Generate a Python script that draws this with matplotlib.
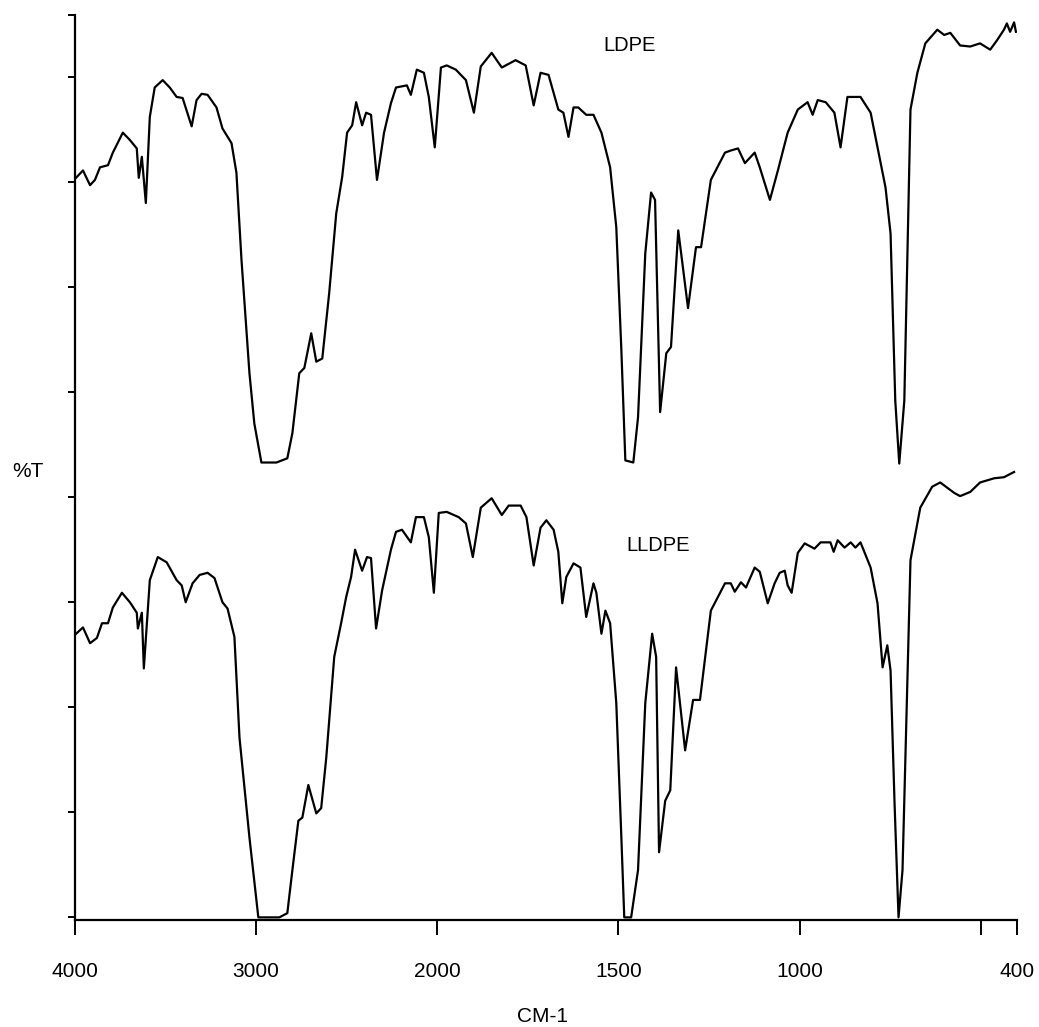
import numpy as np
import matplotlib
matplotlib.use("Agg")
import matplotlib.pyplot as plt

plt.rcParams['font.family'] = ['Liberation Sans', 'DejaVu Sans']

# ---- data (wavenumber cm-1, %T) ----
ldpe_wn = [4000, 3956, 3917, 3890, 3862, 3818, 3791, 3736, 3697, 3659, 3648, 3631, 3609, 3587,
           3560, 3516, 3477, 3439, 3406, 3356, 3329, 3301, 3268, 3219, 3186, 3136, 3109, 3081,
           3037, 3010, 2971, 2888, 2828, 2800, 2762, 2734, 2696, 2668, 2635, 2597, 2558, 2525,
           2498, 2470, 2448, 2415, 2393, 2366, 2333, 2294, 2256, 2228, 2168, 2146, 2113, 2074,
           2047, 2014, 1990, 1974, 1949, 1921, 1899, 1880, 1850, 1822, 1784, 1756, 1734, 1715,
           1693, 1666, 1652, 1638, 1624, 1611, 1589, 1569, 1547, 1523, 1506, 1492, 1481, 1459,
           1446, 1426, 1410, 1399, 1385, 1368, 1355, 1335, 1308, 1286, 1272, 1245, 1206, 1190,
           1170, 1151, 1124, 1110, 1082, 1060, 1033, 1005, 978, 964, 950, 928, 904, 887, 868,
           832, 804, 785, 763, 749, 736, 725, 711, 694, 675, 653, 620, 601, 584, 557, 529, 502,
           474, 455, 436, 428, 419, 408, 403]
ldpe_t = [70.3, 71.1, 69.7, 70.2, 71.4, 71.6, 72.8, 74.7, 74.0, 73.2, 70.4, 72.4, 68.0, 76.2,
          79.0, 79.7, 79.0, 78.1, 78.0, 75.3, 77.8, 78.4, 78.3, 77.1, 75.1, 73.7, 70.9, 62.6,
          51.8, 47.0, 43.3, 43.3, 43.7, 46.1, 51.8, 52.3, 55.6, 52.9, 53.2, 59.4, 67.0, 70.5,
          74.7, 75.4, 77.6, 75.4, 76.6, 76.4, 70.2, 74.7, 77.5, 79.0, 79.2, 78.3, 80.7, 80.4,
          78.1, 73.3, 80.9, 81.1, 80.7, 79.7, 76.6, 81.0, 82.3, 80.9, 81.6, 81.1, 77.3, 80.4,
          80.2, 76.9, 76.6, 74.3, 77.1, 77.1, 76.4, 76.4, 74.7, 71.4, 65.7, 54.0, 43.5, 43.3,
          47.6, 63.2, 69.0, 68.3, 48.1, 53.7, 54.3, 65.4, 58.0, 63.8, 63.8, 70.2, 72.8, 73.0,
          73.2, 71.8, 72.8, 71.4, 68.3, 71.1, 74.7, 76.9, 77.6, 76.4, 77.8, 77.6, 76.6, 73.3, 78.1,
          78.1, 76.6, 73.3, 69.5, 65.1, 49.2, 43.2, 49.2, 76.9, 80.4, 83.2, 84.5, 84.0, 84.2, 83.0,
          82.9, 83.2, 82.6, 83.5, 84.5, 85.1, 84.3, 85.2, 84.3]

lldpe_wn = [4000, 3956, 3917, 3879, 3851, 3818, 3791, 3741, 3697, 3659, 3653, 3631, 3620, 3587,
            3543, 3494, 3439, 3411, 3389, 3351, 3312, 3268, 3230, 3186, 3158, 3120, 3092, 3037,
            2988, 2872, 2828, 2800, 2767, 2745, 2712, 2668, 2641, 2613, 2569, 2531, 2503, 2476,
            2454, 2415, 2388, 2366, 2338, 2305, 2256, 2228, 2195, 2146, 2118, 2074, 2047, 2019,
            1996, 1974, 1941, 1921, 1902, 1880, 1850, 1822, 1803, 1770, 1754, 1734, 1715, 1699,
            1679, 1666, 1655, 1644, 1624, 1605, 1589, 1569, 1561, 1547, 1536, 1523, 1506, 1492,
            1484, 1465, 1446, 1426, 1407, 1396, 1388, 1371, 1357, 1341, 1316, 1294, 1275, 1245,
            1206, 1190, 1179, 1162, 1148, 1124, 1110, 1088, 1069, 1055, 1041, 1033, 1022, 1005,
            986, 959, 942, 915, 906, 895, 876, 859, 846, 832, 804, 785, 771, 758, 749, 738, 727,
            716, 694, 667, 634, 612, 573, 557, 529, 502, 463, 436, 408]
lldpe_t = [26.9, 27.6, 26.1, 26.6, 28.0, 28.0, 29.5, 30.9, 30.0, 29.0, 27.5, 29.0, 23.7, 32.1,
           34.3, 33.8, 32.1, 31.6, 30.0, 31.8, 32.6, 32.8, 32.3, 30.0, 29.4, 26.7, 17.1, 7.6,
           0.0, 0.0, 0.4, 4.5, 9.2, 9.5, 12.6, 9.9, 10.4, 15.2, 24.8, 28.0, 30.5, 32.4,
           35.0, 33.0, 34.3, 34.2, 27.5, 31.1, 35.0, 36.7, 36.9, 35.7, 38.1, 38.1, 36.2, 30.9,
           38.5, 38.6, 38.1, 37.5, 34.3, 39.0, 39.9, 38.3, 39.2, 39.2, 38.1, 33.5, 37.1, 37.8,
           36.9, 34.8, 29.9, 32.4, 33.7, 33.3, 28.6, 31.8, 30.9, 27.0, 29.2, 28.0, 20.4, 7.6,
           0.0, 0.0, 4.5, 20.4, 27.0, 24.8, 6.2, 11.1, 12.1, 23.8, 15.9, 20.7, 20.7, 29.2,
           31.8, 31.8, 31.0, 31.9, 31.4, 33.3, 32.9, 29.9, 31.8, 32.8, 33.0, 31.6, 30.9, 34.7,
           35.6, 35.1, 35.7, 35.7, 34.8, 35.9, 35.2, 35.7, 35.2, 35.7, 33.3, 29.9, 23.8, 25.9, 23.5,
           10.9, 0.0, 4.5, 34.0, 39.0, 41.0, 41.4, 40.4, 40.1, 40.5, 41.4, 41.8, 41.9, 42.4]

x_ticks = [4000, 3000, 2000, 1500, 1000, 500, 400]
x_tick_labels = ['4000', '3000', '2000', '1500', '1000', '', '400']
y_ticks = [0, 10, 20, 30, 40, 50, 60, 70, 80]
series_labels = ['LDPE', 'LLDPE']
label_pos = [(1468, 83.0), (1390, 35.4)]


def fwd(x):
    x = np.asarray(x, dtype=float)
    return np.where(x >= 2000, x, 2 * x - 2000)


def inv(y):
    y = np.asarray(y, dtype=float)
    return np.where(y >= 2000, y, (y + 2000) / 2)


W, H = 1039, 1027
fig = plt.figure(figsize=(W / 100, H / 100), dpi=100)
ax = fig.add_axes([75 / W, 1 - 920 / H, (1017 - 75) / W, (920 - 15) / H])
ax.set_xscale('function', functions=(fwd, inv))

ax.plot(ldpe_wn, ldpe_t, color='black', lw=1.6, solid_joinstyle='round')
ax.plot(lldpe_wn, lldpe_t, color='black', lw=1.6, solid_joinstyle='round')

ytop = 85.9
ax.set_xlim(4000, 400)
ax.set_ylim(-0.25, ytop)

ax.set_xticks(x_ticks)
ax.set_xticklabels(x_tick_labels, fontsize=15)
ax.xaxis.set_minor_locator(matplotlib.ticker.NullLocator())
ax.set_yticks(y_ticks + [ytop])
ax.set_yticklabels([])
ax.tick_params(axis='x', direction='out', length=11, width=1.4, pad=19)
ax.tick_params(axis='y', direction='out', length=5, width=1.4)

for s in ['top', 'right']:
    ax.spines[s].set_visible(False)
for s in ['left', 'bottom']:
    ax.spines[s].set_linewidth(1.6)

for name, (lx, ly) in zip(series_labels, label_pos):
    ax.text(lx, ly, name, fontsize=14.5, ha='center', va='center')

fig.text(28 / W, 1 - 472 / H, '%T', fontsize=15, ha='center', va='center')
fig.text(543 / W, 1 - 1017 / H, 'CM-1', fontsize=15, ha='center', va='center')

fig.savefig('out.png', dpi=100, facecolor='white')
